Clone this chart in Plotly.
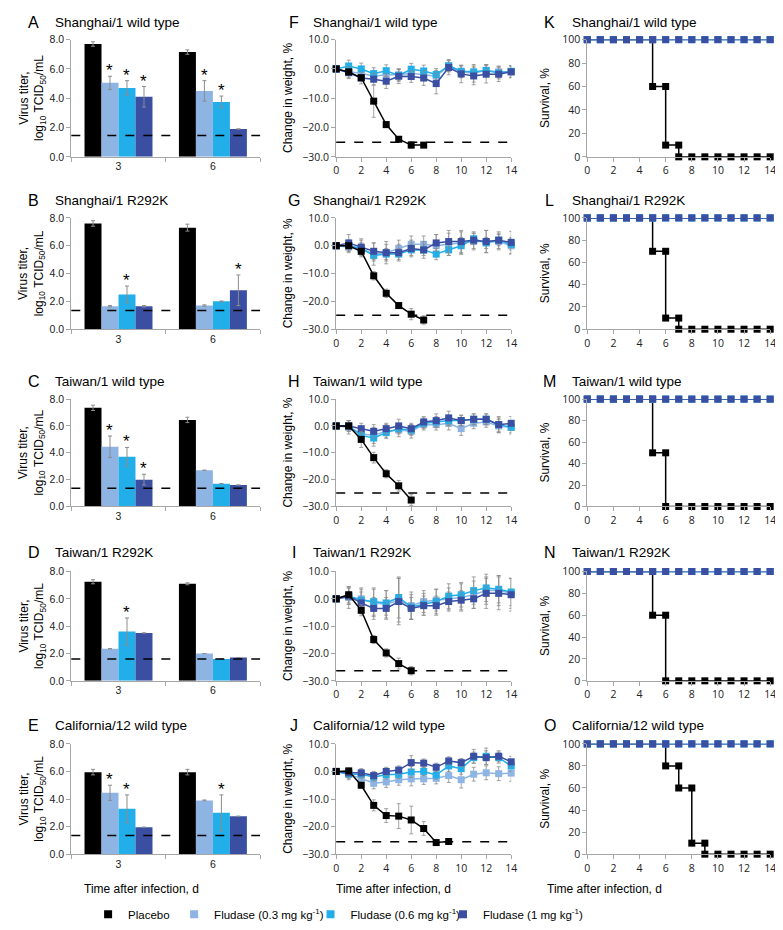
import plotly.graph_objects as go

W, H = 783, 930

# ---------------- data ----------------
GROUP_NAMES = ["Placebo",
               "Fludase (0.3 mg kg<sup>-1</sup>)",
               "Fludase (0.6 mg kg<sup>-1</sup>)",
               "Fludase (1 mg kg<sup>-1</sup>)"]
GROUP_COLORS = ["#000000", "#8EB4E3", "#22AEE8", "#3A4EA2"]

STRAINS = ["Shanghai/1 wild type", "Shanghai/1 R292K", "Taiwan/1 wild type",
           "Taiwan/1 R292K", "California/12 wild type"]
BAR_LETTERS = ["A", "B", "C", "D", "E"]
WEIGHT_LETTERS = ["F", "G", "H", "I", "J"]
SURV_LETTERS = ["K", "L", "M", "N", "O"]

TITER_DAYS = ["3", "6"]
# per group: [day 3, day 6]
titer_A = [[7.70, 7.15], [5.05, 4.50], [4.70, 3.75], [4.10, 1.90]]
titer_A_err = [[0.15, 0.15], [0.45, 0.70], [0.50, 0.40], [0.70, 0.0]]
titer_A_sig = [[0, 0], [1, 1], [1, 1], [1, 0]]
titer_B = [[7.60, 7.30], [1.65, 1.70], [2.50, 2.00], [1.65, 2.80]]
titer_B_err = [[0.20, 0.25], [0.05, 0.05], [0.60, 0.03], [0.05, 1.10]]
titer_B_sig = [[0, 0], [0, 0], [1, 0], [0, 1]]
titer_C = [[7.35, 6.45], [4.45, 2.70], [3.70, 1.70], [2.00, 1.60]]
titer_C_err = [[0.20, 0.20], [0.80, 0.0], [0.70, 0.0], [0.40, 0.0]]
titer_C_sig = [[0, 0], [1, 0], [1, 0], [1, 0]]
titer_D = [[7.25, 7.10], [2.35, 2.00], [3.60, 1.60], [3.50, 1.70]]
titer_D_err = [[0.15, 0.07], [0.0, 0.0], [1.00, 0.0], [0.0, 0.0]]
titer_D_sig = [[0, 0], [0, 0], [1, 0], [0, 0]]
titer_E = [[5.95, 5.95], [4.45, 3.90], [3.30, 3.00], [1.95, 2.75]]
titer_E_err = [[0.20, 0.20], [0.55, 0.03], [1.00, 1.30], [0.0, 0.0]]
titer_E_sig = [[0, 0], [1, 0], [1, 1], [0, 0]]
TITER_LOD = [1.45, 1.35, 1.35, 1.60, 1.35]

WEIGHT_DAYS = list(range(15))
# order: placebo, 0.3, 0.6, 1 mg/kg
weight_F = [[0, -1.0, -3.0, -11.0, -19.0, -24.0, -26.0, -26.0],
            [0, -1.0, -1.5, -2.5, -2.0, -2.0, -1.5, -2.0, -2.5, 1.0, -1.0, -1.5, -0.5, -1.0, -1.0],
            [0, 1.0, 0.0, -1.6, -0.6, -2.2, -0.1, -0.7, -1.9, 1.1, -0.8, -1.0, -0.5, -1.4, -0.8],
            [0, -1.3, -3.1, -3.5, -4.2, -2.5, -2.6, -3.1, -5.0, 0.5, -1.7, -2.4, -1.8, -1.8, -1.0]]
weight_F_err = [[0, 0.5, 1.0, 5.5, 1.0, 0.8, 1.0, 0.5],
                [0, 2.0, 2.0, 2.0, 2.0, 2.0, 2.0, 2.0, 2.0, 2.0, 2.0, 3.0, 2.0, 2.0, 2.0],
                [0, 2.0, 2.0, 2.0, 2.0, 2.0, 2.0, 2.0, 2.0, 2.0, 2.0, 2.0, 2.0, 2.0, 2.0],
                [0, 2.0, 2.0, 2.0, 2.5, 2.5, 2.0, 2.5, 3.5, 2.5, 3.0, 3.0, 3.0, 2.5, 2.0]]
weight_G = [[0, 0.0, -2.0, -10.8, -17.1, -21.5, -24.6, -26.7],
            [0, -0.5, -1.0, -3.0, -2.5, -1.0, 0.5, 0.5, 0.0, 0.5, 1.0, 1.5, 1.5, 1.5, 0.0],
            [0, 0.0, -1.0, -3.5, -3.0, -3.0, -1.5, -1.5, -3.0, -1.5, 0.0, 2.5, 1.0, 2.0, 0.5],
            [0, 1.0, -0.5, -2.0, -2.5, -2.5, -1.0, -1.5, 1.0, 1.5, 1.5, 2.0, 1.5, 2.0, 1.2]]
weight_G_err = [[0, 0.5, 1.0, 1.5, 1.5, 1.0, 2.0, 1.5],
                [0, 2.0, 3.0, 4.0, 4.0, 3.0, 3.0, 3.0, 4.0, 4.0, 4.0, 3.0, 4.0, 3.0, 3.0],
                [0, 2.0, 2.0, 2.0, 2.0, 2.0, 2.0, 2.0, 2.0, 2.0, 3.0, 2.0, 2.0, 2.0, 2.0],
                [0, 3.0, 3.0, 3.0, 3.0, 3.0, 3.0, 3.0, 3.0, 4.0, 4.0, 3.0, 4.0, 3.0, 4.0]]
weight_H = [[0, 0.0, -5.0, -11.8, -17.8, -22.3, -27.6],
            [0, -0.5, -3.0, -3.5, -2.0, -1.5, -2.0, 0.5, 0.5, 1.0, -1.0, 1.0, 1.5, 0.0, -0.5],
            [0, 0.0, -3.5, -4.5, -2.5, -1.0, -1.5, 1.0, 1.5, 2.0, 2.0, 2.5, 2.5, 0.5, -0.5],
            [0, 0.0, -1.0, -2.0, -1.0, 0.0, -1.0, 1.5, 2.0, 3.0, 2.0, 2.5, 2.5, 0.5, 1.0]]
weight_H_err = [[0, 1.0, 3.0, 2.0, 1.5, 2.0, 2.0],
                [0, 2.5, 2.5, 3.0, 2.5, 2.5, 2.5, 2.0, 2.0, 2.5, 2.5, 2.0, 2.0, 2.5, 2.5],
                [0, 2.0, 2.0, 3.0, 2.0, 2.0, 2.0, 2.0, 2.0, 2.0, 2.0, 2.0, 2.0, 2.5, 2.0],
                [0, 2.0, 2.0, 2.5, 2.0, 2.5, 2.0, 2.0, 2.5, 2.5, 2.0, 2.0, 2.0, 3.0, 2.5]]
weight_I = [[0, 1.5, -4.2, -14.9, -19.8, -23.7, -26.3],
            [0, 0.5, 0.0, -1.5, -2.0, -0.5, -2.5, -1.0, -0.5, 0.0, 0.5, 1.5, 3.0, 3.0, 2.0],
            [0, 1.0, -0.5, -1.0, -1.5, 0.5, -3.0, -2.0, -1.0, 1.0, 1.5, 3.0, 4.0, 3.5, 2.5],
            [0, 1.0, -1.5, -3.5, -3.5, -1.0, -3.5, -2.5, -2.5, -1.0, -0.5, 0.0, 2.0, 2.0, 1.5]]
weight_I_err = [[0, 3.0, 2.0, 1.5, 1.5, 2.0, 1.5],
                [0, 4.0, 4.0, 5.0, 5.0, 8.0, 5.0, 4.0, 4.0, 4.0, 5.0, 5.0, 5.0, 5.5, 5.5],
                [0, 3.0, 4.0, 5.0, 4.5, 7.5, 4.5, 4.0, 4.5, 4.5, 4.5, 5.0, 5.0, 5.0, 5.0],
                [0, 3.0, 4.0, 4.0, 4.0, 8.5, 4.0, 3.5, 3.5, 3.5, 3.5, 3.5, 5.5, 6.0, 6.0]]
weight_J = [[0, 0.2, -5.0, -12.3, -16.0, -16.2, -17.6, -20.7, -25.8, -25.4],
            [0, -1.0, -2.5, -4.3, -3.8, -3.0, -2.7, -2.7, -2.5, -1.5, -3.0, -1.0, -0.5, -0.8, -0.6],
            [0, -1.0, -1.0, -2.0, -1.2, -1.0, -0.2, 0.0, -1.3, 2.0, 1.0, 5.0, 5.5, 5.0, 2.0],
            [0, -0.5, -0.5, -1.5, 0.0, 0.5, 3.2, 3.0, 1.5, 3.8, 3.2, 5.5, 5.0, 5.5, 3.5]]
weight_J_err = [[0, 1.0, 1.0, 2.0, 2.5, 4.5, 5.0, 2.5, 1.0, 0.5],
                [0, 2.0, 2.0, 2.0, 2.0, 2.0, 2.5, 2.0, 2.0, 2.5, 3.0, 2.5, 2.5, 2.5, 3.0],
                [0, 1.5, 1.5, 1.5, 1.5, 1.5, 2.0, 1.5, 1.5, 2.0, 2.0, 2.0, 3.0, 2.0, 2.0],
                [0, 1.5, 1.5, 1.5, 1.5, 1.5, 2.5, 1.5, 1.5, 1.5, 1.5, 2.5, 2.5, 2.0, 2.0]]
WEIGHT_LOD = [-25.0, -25.0, -25.0, -26.3, -25.5]

SURV_DAYS = list(range(15))
surv_fludase = [100, 100, 100, 100, 100, 100, 100, 100, 100, 100, 100, 100, 100, 100, 100]
surv_K = [100, 100, 100, 100, 100, 60, 10, 0, 0, 0, 0, 0, 0, 0, 0]
surv_L = [100, 100, 100, 100, 100, 70, 10, 0, 0, 0, 0, 0, 0, 0, 0]
surv_M = [100, 100, 100, 100, 100, 50, 0, 0, 0, 0, 0, 0, 0, 0, 0]
surv_N = [100, 100, 100, 100, 100, 60, 0, 0, 0, 0, 0, 0, 0, 0, 0]
surv_O = [100, 100, 100, 100, 100, 100, 80, 60, 10, 0, 0, 0, 0, 0, 0]

TITERS = [(titer_A, titer_A_err, titer_A_sig), (titer_B, titer_B_err, titer_B_sig),
          (titer_C, titer_C_err, titer_C_sig), (titer_D, titer_D_err, titer_D_sig),
          (titer_E, titer_E_err, titer_E_sig)]
WEIGHTS = [(weight_F, weight_F_err), (weight_G, weight_G_err), (weight_H, weight_H_err),
           (weight_I, weight_I_err), (weight_J, weight_J_err)]
SURVS = [surv_K, surv_L, surv_M, surv_N, surv_O]

# ---------------- layout geometry (pixels) ----------------
ROWS = [(25, 144), (206, 319), (390, 499), (565, 676), (740, 852)]
COLS = [(61, 252), (329, 506), (583, 768)]
TITLE_Y = [8, 188, 372, 546, 721]
LETTER_X = [23, 286, 545]
TITLE_X = [42, 303, 565]
YTITLE_X = [21, 280, 540]

FONT = "Liberation Sans, Arial, sans-serif"
TICKFONT2 = "Open Sans, Liberation Sans, sans-serif"
AXIS_GREY = "#A6A6A6"
ERR_GREY = "#8C8C8C"


def xd(a, b):
    return [a / W, b / W]


def yd(top, bottom):
    return [1 - bottom / H, 1 - top / H]


fig = go.Figure()
annotations = []
shapes = []
layout_axes = {}

BARGAP = 0.28
BW = (1 - BARGAP) / 4


def axname(n):
    return ("" if n == 1 else str(n))


for col in range(3):
    for row in range(5):
        n = col * 5 + row + 1
        xa, ya = "x" + axname(n), "y" + axname(n)
        common_line = dict(showline=True, linecolor=AXIS_GREY, linewidth=1, ticks="outside",
                           tickcolor=AXIS_GREY, ticklen=4, showgrid=False, zeroline=False,
                           fixedrange=True)
        if col == 0:
            data, err, sig = TITERS[row]
            for g in range(4):
                fig.add_trace(go.Bar(
                    x=TITER_DAYS, y=data[g], name=GROUP_NAMES[g], showlegend=False,
                    marker=dict(color=GROUP_COLORS[g], line=dict(width=0)),
                    error_y=dict(type="data", array=err[g], color=ERR_GREY, thickness=1, width=2,
                                 visible=True),
                    xaxis=xa, yaxis=ya))
                for ci in range(2):
                    if sig[g][ci]:
                        annotations.append(dict(
                            x=ci + (g - 1.5) * BW, y=data[g][ci] + err[g][ci], xref=xa, yref=ya,
                            text="*", showarrow=False, yanchor="bottom", yshift=-6,
                            font=dict(family=FONT, size=17, color="#000")))
            shapes.append(dict(type="line", xref=xa + " domain", x0=0, x1=1, yref=ya,
                               y0=TITER_LOD[row], y1=TITER_LOD[row],
                               line=dict(color="#000", width=1.5, dash="dash")))
            layout_axes["xaxis" + axname(n)] = dict(
                domain=xd(*COLS[col]), anchor=ya, type="category", range=[-0.5, 1.5],
                tickson="boundaries", tickfont=dict(family=FONT, size=10.5, color="#222"),
                **common_line)
            layout_axes["yaxis" + axname(n)] = dict(
                domain=yd(*ROWS[row]), anchor=xa, range=[0, 8], dtick=2, tickformat=".1f",
                tickfont=dict(family=FONT, size=10.5, color="#222"), **common_line)
            ytitle = "Virus titer,<br>log<sub>10</sub> TCID<sub>50</sub>/mL"
            letters = BAR_LETTERS
        elif col == 1:
            data, err = WEIGHTS[row]
            order = [1, 2, 3, 0]
            for g in order:
                d = data[g]
                fig.add_trace(go.Scatter(
                    x=WEIGHT_DAYS[:len(d)], y=d, mode="lines+markers", name=GROUP_NAMES[g],
                    showlegend=False, cliponaxis=False,
                    line=dict(color=GROUP_COLORS[g], width=1.5),
                    marker=dict(symbol="square", size=7, color=GROUP_COLORS[g]),
                    error_y=dict(type="data", array=err[g][:len(d)], color=ERR_GREY, thickness=0.8,
                                 width=2),
                    xaxis=xa, yaxis=ya))
            shapes.append(dict(type="line", xref=xa + " domain", x0=0, x1=1, yref=ya,
                               y0=WEIGHT_LOD[row], y1=WEIGHT_LOD[row],
                               line=dict(color="#000", width=1.5, dash="dash")))
            layout_axes["xaxis" + axname(n)] = dict(
                domain=xd(*COLS[col]), anchor=ya, range=[0, 14], dtick=2,
                tickfont=dict(family=TICKFONT2, size=10.5, color="#222"), **common_line)
            layout_axes["yaxis" + axname(n)] = dict(
                domain=yd(*ROWS[row]), anchor=xa, range=[-30, 10], dtick=10, tickformat=".1f",
                tickfont=dict(family=TICKFONT2, size=10.5, color="#222"), **common_line)
            ytitle = "Change in weight, %"
            letters = WEIGHT_LETTERS
        else:
            v = SURVS[row]
            sx, sy = [], []
            for i, d in enumerate(SURV_DAYS):
                if i > 0 and v[i] != v[i - 1]:
                    sx.append(d)
                    sy.append(v[i - 1])
                sx.append(d)
                sy.append(v[i])
            fig.add_trace(go.Scatter(
                x=sx, y=sy, mode="lines+markers", name=GROUP_NAMES[0], showlegend=False,
                cliponaxis=False, line=dict(color="#000", width=1.5),
                marker=dict(symbol="square", size=7, color="#000"), xaxis=xa, yaxis=ya))
            for g in [1, 2, 3]:
                fig.add_trace(go.Scatter(
                    x=SURV_DAYS, y=surv_fludase, mode="lines+markers", name=GROUP_NAMES[g],
                    showlegend=False, cliponaxis=False,
                    line=dict(color=GROUP_COLORS[g], width=1.5),
                    marker=dict(symbol="square", size=7, color=GROUP_COLORS[g]),
                    xaxis=xa, yaxis=ya))
            layout_axes["xaxis" + axname(n)] = dict(
                domain=xd(*COLS[col]), anchor=ya, range=[0, 14], dtick=2,
                tickfont=dict(family=TICKFONT2, size=10.5, color="#222"), **common_line)
            layout_axes["yaxis" + axname(n)] = dict(
                domain=yd(*ROWS[row]), anchor=xa, range=[0, 100], dtick=20,
                tickfont=dict(family=TICKFONT2, size=10.5, color="#222"), **common_line)
            ytitle = "Survival, %"
            letters = SURV_LETTERS

        # panel letter + title
        annotations.append(dict(x=LETTER_X[col] / W, y=1 - TITLE_Y[row] / H, xref="paper",
                                yref="paper", text=letters[row], showarrow=False,
                                xanchor="center", yanchor="middle",
                                font=dict(family=FONT, size=16, color="#000")))
        annotations.append(dict(x=TITLE_X[col] / W, y=1 - TITLE_Y[row] / H, xref="paper",
                                yref="paper", text=STRAINS[row], showarrow=False,
                                xanchor="left", yanchor="middle",
                                font=dict(family=FONT, size=13.5, color="#000")))
        # y-axis title
        annotations.append(dict(x=YTITLE_X[col] / W, y=1 - (ROWS[row][0] + ROWS[row][1]) / 2 / H,
                                xref="paper", yref="paper", text=ytitle, showarrow=False,
                                textangle=-90, xanchor="center", yanchor="middle",
                                font=dict(family=FONT, size=12, color="#000")))

# x-axis titles under each column
for x0 in [72, 327, 540]:
    annotations.append(dict(x=x0 / W, y=1 - 887 / H, xref="paper", yref="paper",
                            text="Time after infection, d", showarrow=False, xanchor="left",
                            yanchor="middle", font=dict(family=FONT, size=12, color="#000")))

# legend entries (one legend per item so each sits where the reference has it)
LEG_TEXT_X = [127, 214, 352, 486]
for g in range(4):
    lname = "legend" if g == 0 else "legend" + str(g + 1)
    fig.add_trace(go.Scatter(x=[None], y=[None], mode="markers", name=GROUP_NAMES[g],
                             marker=dict(symbol="square", size=8, color=GROUP_COLORS[g]),
                             showlegend=True, legend=lname, xaxis="x", yaxis="y"))
    layout_axes[lname] = dict(x=(LEG_TEXT_X[g] - 49) / W, y=1 - 913 / H, xanchor="left",
                              yanchor="middle", orientation="h", bgcolor="rgba(0,0,0,0)",
                              font=dict(family=FONT, size=11.5, color="#000"), itemwidth=30)

fig.update_layout(
    width=W, height=H, margin=dict(l=0, r=0, t=0, b=0),
    paper_bgcolor="white", plot_bgcolor="white",
    barmode="group", bargap=BARGAP, bargroupgap=0,
    annotations=annotations, shapes=shapes, **layout_axes)

fig.write_html("out.html")
